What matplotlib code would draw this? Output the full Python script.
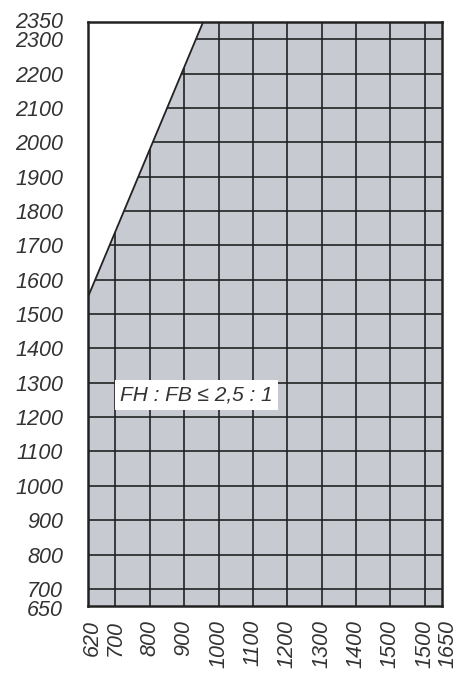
import matplotlib
matplotlib.use("Agg")
import matplotlib.pyplot as plt
import matplotlib.transforms as mtransforms
import numpy as np

# frame limits
x_min, x_max = 620, 1650
y_min, y_max = 650, 2350

# boundary line FH : FB = 2,5 : 1
line_x = [620, 955]
line_y = [1550, 2350]

# grid lines
grid_x = [700, 800, 900, 1000, 1100, 1200, 1300, 1400, 1500, 1600]
grid_y = [700, 800, 900, 1000, 1100, 1200, 1300, 1400, 1500, 1600,
          1700, 1800, 1900, 2000, 2100, 2200, 2300]

# tick labels (as printed, including the second "1500")
xtick_pos = [620, 700, 800, 900, 1000, 1100, 1200, 1300, 1400, 1500, 1600, 1650]
xtick_lab = ["620", "700", "800", "900", "1000", "1100", "1200", "1300",
             "1400", "1500", "1500", "1650"]
ytick_pos = [650, 700, 800, 900, 1000, 1100, 1200, 1300, 1400, 1500, 1600,
             1700, 1800, 1900, 2000, 2100, 2200, 2300, 2350]
ytick_lab = [str(v) for v in ytick_pos]

label_text = "FH : FB \u2264 2,5 : 1"

fill_col = "#c8cad2"
ink = "#222222"
txt_col = "#333333"

fig = plt.figure(figsize=(4.73, 6.93), dpi=100)
ax = fig.add_axes([0.186, 0.1255, 0.748, 0.8425])
ax.set_xlim(x_min, x_max)
ax.set_ylim(y_min, y_max)

# shaded region below the boundary line
poly = ax.fill([line_x[0], line_x[1], x_max, x_max, x_min],
               [line_y[0], line_y[1], y_max, y_min, y_min],
               color=fill_col, lw=0, zorder=1)[0]

for gx in grid_x:
    ln, = ax.plot([gx, gx], [y_min, y_max], color=ink, lw=1.2, zorder=2)
    ln.set_clip_path(poly)
for gy in grid_y:
    ln, = ax.plot([x_min, x_max], [gy, gy], color=ink, lw=1.2, zorder=2)
    ln.set_clip_path(poly)

ax.plot(line_x, line_y, color=ink, lw=1.3, zorder=3)

for s in ax.spines.values():
    s.set_linewidth(1.8)
    s.set_color(ink)
    s.set_zorder(4)

ax.set_xticks(xtick_pos)
ax.set_xticklabels(xtick_lab, rotation=90, va="top", ha="center")
ax.set_yticks(ytick_pos)
ax.set_yticklabels(ytick_lab)
ax.tick_params(axis="both", length=0, labelsize=15.5, labelcolor=txt_col)
ax.tick_params(axis="y", pad=18)
ax.tick_params(axis="x", pad=10)
for t in ax.get_xticklabels() + ax.get_yticklabels():
    t.set_fontstyle("italic")
    t.set_family("Liberation Sans")


def shift(label, dx_px, dy_px):
    off = mtransforms.Affine2D().translate(dx_px, dy_px)
    label.set_transform(label.get_transform() + off)


# nudge the crowded end labels apart a little, as in the print
ylabs = ax.get_yticklabels()
shift(ylabs[-1], 0, 2.5)
shift(ylabs[0], 0, -2)
xlabs = ax.get_xticklabels()
shift(xlabs[0], 4.5, 0)
shift(xlabs[-1], 6, 0)

ax.text(713, 1265, label_text, fontsize=15, fontstyle="italic",
        family="Liberation Sans", color=txt_col, va="center", ha="left",
        bbox=dict(boxstyle="square,pad=0.25", fc="white", ec="none"),
        zorder=5)

fig.savefig("out.png", dpi=100)
